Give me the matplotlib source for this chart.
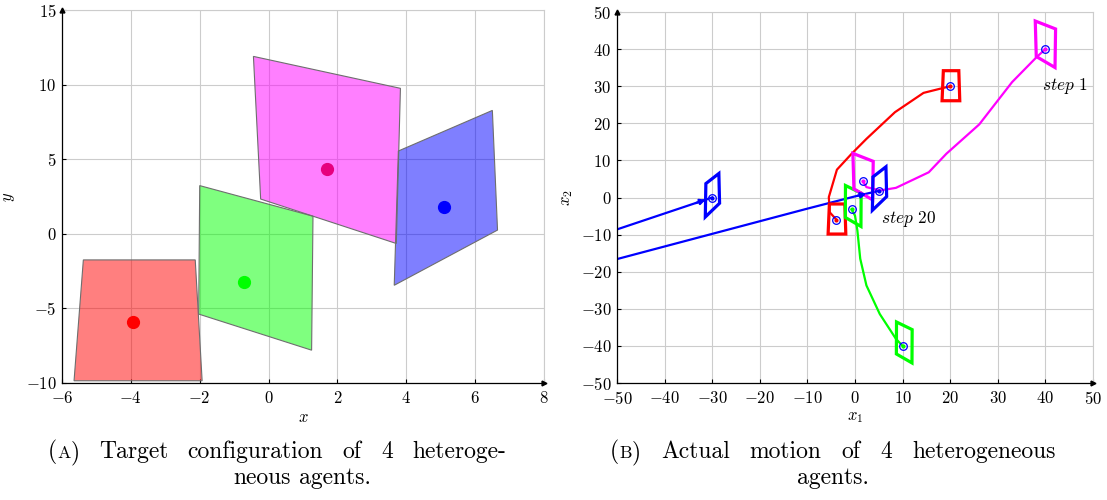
import numpy as np
import matplotlib
matplotlib.use('Agg')
import matplotlib.pyplot as plt
from matplotlib.patches import Polygon

plt.rcParams['font.family'] = 'cmr10'
plt.rcParams['mathtext.fontset'] = 'cm'
plt.rcParams['axes.formatter.use_mathtext'] = True
plt.rcParams['axes.unicode_minus'] = True

# ---------------- data ----------------
agent_names = ['red', 'green', 'magenta', 'blue']
agent_colors = ['#ff0000', '#00ff00', '#ff00ff', '#0000ff']
dot_colors = ['#ff0000', '#00ff00', '#e6007e', '#0000ff']

red_shape_x = [-5.38, -2.13, -1.93, -5.65]
red_shape_y = [-1.75, -1.75, -9.85, -9.85]
green_shape_x = [-2.00, 1.29, 1.25, -2.03]
green_shape_y = [3.23, 1.18, -7.80, -5.38]
magenta_shape_x = [-0.44, 3.83, 3.71, -0.23]
magenta_shape_y = [11.89, 9.75, -0.65, 2.33]
blue_shape_x = [3.77, 6.50, 6.65, 3.65]
blue_shape_y = [5.55, 8.27, 0.25, -3.45]

target_x = [-3.94, -0.72, 1.69, 5.10]
target_y = [-5.93, -3.21, 4.32, 1.80]
start_x = [20, 10, 40, -30]
start_y = [30, -40, 40, 0]

red_traj_x = [20, 14.4, 8.4, 2.4, -0.7, -3.8, -5.5, -5.3, -3.94]
red_traj_y = [30, 28.2, 23.0, 15.8, 11.8, 7.5, 0.1, -4.0, -5.93]
green_traj_x = [10, 8.6, 5.2, 2.4, 1.1, 0.5, 0.0, -0.72]
green_traj_y = [-40, -38.1, -31.4, -23.7, -16.5, -8.9, -4.9, -3.21]
magenta_traj_x = [40, 38.2, 33.0, 26.1, 19.2, 15.5, 8.6, 5.3, 2.4, 1.69]
magenta_traj_y = [40, 37.9, 31.1, 19.7, 11.8, 6.8, 2.6, 1.9, 2.8, 4.32]
blue_traj_x = [-30, -50, -65, -65, -50, -40, -30, -20, -10, 0, 3, 5.10]
blue_traj_y = [0, -8.6, -15, -22, -16.6, -13.2, -9.8, -6.4, -3.0, 0.3, 1.2, 1.80]

left_xticks = [-6, -4, -2, 0, 2, 4, 6, 8]
left_yticks = [-10, -5, 0, 5, 10, 15]
right_ticks = [-50, -40, -30, -20, -10, 0, 10, 20, 30, 40, 50]

shapes_x = [red_shape_x, green_shape_x, magenta_shape_x, blue_shape_x]
shapes_y = [red_shape_y, green_shape_y, magenta_shape_y, blue_shape_y]
trajs_x = [red_traj_x, green_traj_x, magenta_traj_x, blue_traj_x]
trajs_y = [red_traj_y, green_traj_y, magenta_traj_y, blue_traj_y]

# ---------------- figure ----------------
W, H = 1107, 500
fig = plt.figure(figsize=(W / 100, H / 100), dpi=100)
TICK_FS = 12


def px_axes(x0, y0, x1, y1):
    return fig.add_axes([x0 / W, 1 - y1 / H, (x1 - x0) / W, (y1 - y0) / H])


def style_axes(ax):
    ax.grid(True, color='#cccccc', lw=0.8)
    ax.set_axisbelow(True)
    for s in ['top', 'right']:
        ax.spines[s].set_color('#cccccc')
        ax.spines[s].set_linewidth(0.8)
    for s in ['left', 'bottom']:
        ax.spines[s].set_color('black')
        ax.spines[s].set_linewidth(0.9)
        ax.spines[s].set_zorder(5)
    ax.tick_params(direction='in', length=3, width=0.8, labelsize=TICK_FS)
    ax.tick_params(axis='x', pad=5)
    ax.tick_params(axis='y', pad=4)
    ax.plot([1], [0], marker='>', color='black', markersize=3.5,
            transform=ax.transAxes, clip_on=False, zorder=6)
    ax.plot([0], [1], marker='^', color='black', markersize=3.5,
            transform=ax.transAxes, clip_on=False, zorder=6)


# ----- left panel -----
axL = px_axes(62, 10, 544, 383)
axL.set_xlim(-6, 8)
axL.set_ylim(-10, 15)
axL.set_xticks(left_xticks)
axL.set_yticks(left_yticks)
style_axes(axL)
for i in range(4):
    axL.add_patch(Polygon(np.column_stack([shapes_x[i], shapes_y[i]]), closed=True,
                          facecolor=agent_colors[i], alpha=0.5, lw=0, zorder=2))
    axL.add_patch(Polygon(np.column_stack([shapes_x[i], shapes_y[i]]), closed=True,
                          fill=False, edgecolor='#6e6e6e', lw=0.8, zorder=3))
    axL.plot(target_x[i], target_y[i], 'o', color=dot_colors[i],
             markersize=8.5, zorder=4)
axL.set_xlabel(r'$x$', fontsize=12, labelpad=3)
axL.set_ylabel(r'$y$', fontsize=12, labelpad=6)

# ----- right panel -----
axR = px_axes(617, 12, 1093, 383)
axR.set_xlim(-50, 50)
axR.set_ylim(-50, 50)
axR.set_xticks(right_ticks)
axR.set_yticks(right_ticks)
style_axes(axR)
for i in range(4):
    c = agent_colors[i]
    axR.plot(trajs_x[i], trajs_y[i], color=c, lw=1.6, zorder=3,
             solid_joinstyle='round')
    sx = np.array(shapes_x[i]) - target_x[i]
    sy = np.array(shapes_y[i]) - target_y[i]
    for (px, py) in [(start_x[i], start_y[i]), (target_x[i], target_y[i])]:
        axR.add_patch(Polygon(np.column_stack([sx + px, sy + py]), closed=True,
                              fill=False, edgecolor=c, lw=2.3, zorder=4,
                              joinstyle='miter'))
        axR.plot(px, py, 'o', mfc='none', mec='#0000ff', mew=0.9,
                 markersize=5.5, zorder=6)
        axR.plot(px, py, 'o', color=c, markersize=2.0, zorder=7)

# small heading arrows on the blue path
bx, by = blue_traj_x, blue_traj_y
axR.annotate('', xy=(bx[0] - 0.8, by[0] - 0.35), xytext=(bx[0] - 4, by[0] - 1.75),
             arrowprops=dict(arrowstyle='-|>', color='#0000ff', lw=1.6,
                             mutation_scale=8), zorder=5)
axR.annotate('', xy=(bx[10], by[10]), xytext=(bx[9], by[9]),
             arrowprops=dict(arrowstyle='-|>', color='#0000ff', lw=1.6,
                             mutation_scale=8), zorder=5)

axR.text(39.3, 30, r'$step$ 1', fontsize=12.5, ha='left', va='center', zorder=8)
axR.text(5.5, -5.8, r'$step$ 20', fontsize=12.5, ha='left', va='center', zorder=8)
axR.set_xlabel(r'$x_1$', fontsize=12, labelpad=2)
axR.set_ylabel(r'$x_2$', fontsize=12, labelpad=4)

# ---------------- captions ----------------
renderer = fig.canvas.get_renderer()
FS = 17


def run_width(s, fs):
    t = fig.text(0, 0, s, fontsize=fs)
    w = t.get_window_extent(renderer).width
    t.remove()
    return w


def word_width(word):
    return sum(run_width(s, fs) for s, fs in word)


def draw_word(word, x, y):
    for s, fs in word:
        fig.text(x / W, 1 - y / H, s, fontsize=fs, ha='left', va='baseline')
        x += run_width(s, fs)


def draw_line(words, y, x0=None, x1=None, center=None):
    widths = [word_width(w) for w in words]
    if center is None:
        gap = (x1 - x0 - sum(widths)) / (len(words) - 1)
        x = x0
    else:
        gap = run_width('a b', FS) - run_width('ab', FS)
        total = sum(widths) + gap * (len(words) - 1)
        x = center - total / 2
    for w, wd in zip(words, widths):
        draw_word(w, x, y)
        x += wd + gap


def plain(text):
    return [[(t, FS)] for t in text.split()]


capA1 = [[('(', FS), ('A', FS * 0.75), (')', FS)]] + plain('Target configuration of 4 heteroge-')
capB1 = [[('(', FS), ('B', FS * 0.75), (')', FS)]] + plain('Actual motion of 4 heterogeneous')
draw_line(capA1, 458, x0=48, x1=506)
draw_line(plain('neous agents.'), 484, center=302)
draw_line(capB1, 458, x0=610, x1=1056)
draw_line(plain('agents.'), 484, center=833)

fig.savefig('out.png', dpi=100)
